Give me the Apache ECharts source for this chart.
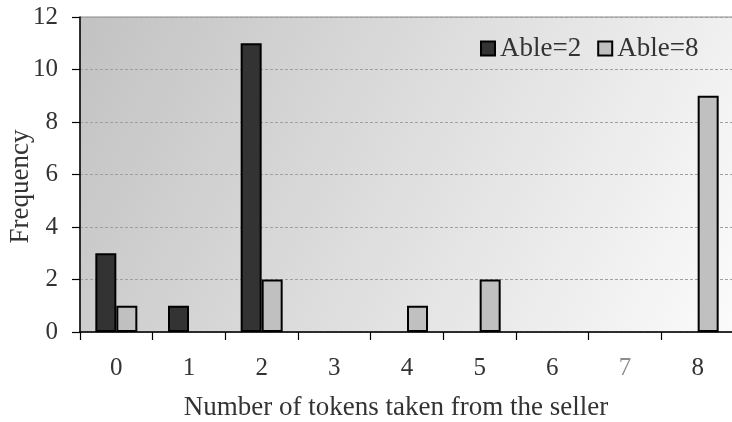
<!DOCTYPE html>
<html>
<head>
<meta charset="utf-8">
<script src="https://cdn.jsdelivr.net/npm/echarts@6/dist/echarts.min.js"></script>
<style>
  html, body { margin: 0; padding: 0; background: #fff; }
  #chart { width: 732px; height: 422px; }
</style>
</head>
<body>
<div id="chart"></div>
<script>
// ── Data ─────────────────────────────────────────────────────────────────────
const categories = ['0', '1', '2', '3', '4', '5', '6', '7', '8'];
const able2 = [3, 1, 11, 0, 0, 0, 0, 0, 0];
const able8 = [1, 0, 2, 0, 1, 2, 0, 0, 9];
const yTicks = { min: 0, max: 12, interval: 2 };

const FONT = '"Liberation Serif", "DejaVu Serif", serif';
const TXT = '#333';

// zero-height bars are not drawn in the original, so drop their border
const barData = arr => arr.map(v => v === 0 ? { value: v, itemStyle: { borderWidth: 0 } } : v);

const chart = echarts.init(document.getElementById('chart'), null, { renderer: 'canvas' });

chart.setOption({
    animation: false,
    textStyle: { fontFamily: FONT, color: TXT },
    grid: {
        left: 80, top: 17, width: 654, height: 315,
        outerBoundsMode: 'none',
        containLabel: false,
        show: true,
        borderColor: '#8a8a8a', borderWidth: 1,
        backgroundColor: new echarts.graphic.LinearGradient(0, 0, 1, 1, [
            { offset: 0, color: '#c2c2c2' },
            { offset: 1, color: '#fbfbfb' }
        ])
    },
    legend: {
        left: 475, top: 30,
        icon: 'rect', itemWidth: 14, itemHeight: 14, itemGap: 16,
        textStyle: { fontFamily: FONT, fontSize: 27, color: TXT },
        data: ['Able=2', 'Able=8']
    },
    xAxis: {
        type: 'category',
        data: categories.map(c => c === '7' ? { value: c, textStyle: { color: '#8c8c8c' } } : c),
        axisLine: { lineStyle: { color: '#000', width: 1.5 } },
        axisTick: { show: true, inside: false, length: 8, lineStyle: { color: '#000', width: 1.2 } },
        axisLabel: { fontFamily: FONT, fontSize: 25, color: TXT, margin: 24 },
        name: 'Number of tokens taken from the seller',
        nameLocation: 'middle', nameGap: 62, nameMoveOverlap: false,
        nameTextStyle: { fontFamily: FONT, fontSize: 27, color: TXT, padding: [0, 22, 0, 0] }
    },
    yAxis: {
        type: 'value',
        min: yTicks.min, max: yTicks.max, interval: yTicks.interval,
        axisLine: { show: true, lineStyle: { color: '#000', width: 1.5 } },
        axisTick: { show: true, inside: false, length: 8, lineStyle: { color: '#000', width: 1.2 } },
        axisLabel: { fontFamily: FONT, fontSize: 25, color: TXT, margin: 22 },
        splitLine: { show: true, lineStyle: { color: '#a0a0a0', type: [3, 2], width: 1 } },
        name: 'Frequency',
        nameLocation: 'middle', nameGap: 46, nameMoveOverlap: false,
        nameTextStyle: { fontFamily: FONT, fontSize: 27, color: TXT, padding: [0, 24, 0, 0] }
    },
    series: [
        {
            name: 'Able=2', type: 'bar', data: barData(able2),
            barWidth: 21, barGap: '0%',
            itemStyle: { color: '#333333', borderColor: '#000', borderWidth: 2 }
        },
        {
            name: 'Able=8', type: 'bar', data: barData(able8),
            barWidth: 21,
            itemStyle: { color: '#c0c0c0', borderColor: '#000', borderWidth: 2 }
        }
    ]
});
</script>
</body>
</html>
